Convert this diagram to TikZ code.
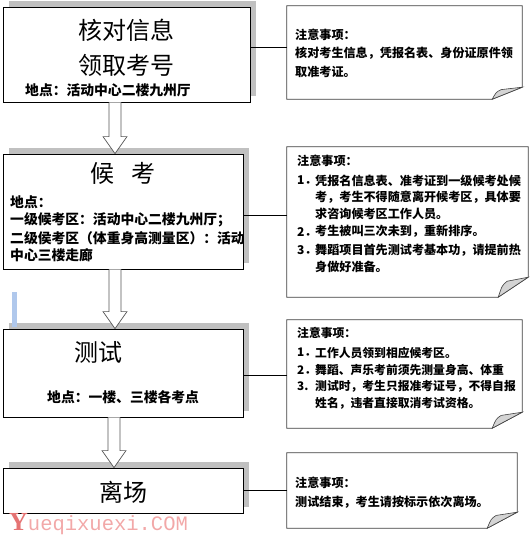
\documentclass[tikz,border=0pt]{standalone}
\usepackage{fontspec}
\newfontfamily\cjk{Noto Sans CJK SC}
\newfontfamily\wmfont{Liberation Mono}
\newfontfamily\wmserif{Liberation Serif}
\usetikzlibrary{calc,shadows}
\definecolor{shadowgray}{HTML}{C0C0C0}
\definecolor{notegray}{HTML}{404040}
\definecolor{foldgray}{HTML}{D4D4D4}
\definecolor{barblue}{HTML}{B0C8EC}
\definecolor{wmpink}{HTML}{F2A8A8}
\definecolor{wmred}{HTML}{E57373}
\definecolor{arrowgray}{HTML}{555555}
\tikzset{
  stepbox/.style={draw=black, line width=0.8pt, fill=white, inner sep=0pt,
    drop shadow={shadow xshift=6pt, shadow yshift=6pt, fill=shadowgray, opacity=1}},
  notebox/.style={draw=none, inner sep=0pt},
  notepath/.style={draw=notegray, line width=0.8pt, fill=white},
  foldpath/.style={draw=notegray, line width=0.6pt, fill=foldgray},
  steptitle/.style={font=\cjk\fontsize{24}{28}\selectfont, inner sep=0pt},
  place/.style={font=\cjk\bfseries\fontsize{13.8}{17}\selectfont, inner sep=0pt, anchor=west},
  note/.style={font=\cjk\bfseries\fontsize{12.1}{15}\selectfont, inner sep=0pt, anchor=west},
  notesmall/.style={font=\cjk\bfseries\fontsize{11.8}{15}\selectfont, inner sep=0pt, anchor=west},
  link/.style={draw=black, line width=0.6pt},
  blockarrow/.style={draw=arrowgray, line width=0.7pt, fill=white},
}
\newcommand\blockarr[2]{%
  \draw[blockarrow] ($(#1)+(-6,0)$) -- ($(#2)+(-6,-17)$) -- ($(#2)+(-12,-17)$) -- (#2)
    -- ($(#2)+(12,-17)$) -- ($(#2)+(6,-17)$) -- ($(#1)+(6,0)$);}
\newcommand\notedraw[2]{%
  \draw[notepath] (#1.north west) -- (#1.north east) -- ($(#1.south east)+(0,-#2)$)
    -- ($(#1.south east)+(-30,0)$) -- (#1.south west) -- cycle;
  \filldraw[foldpath] ($(#1.south east)+(-30,0)$) .. controls ($(#1.south east)+(-26,-0.6*#2)$) .. ($(#1.south east)+(-21,-0.8*#2)$)
    -- ($(#1.south east)+(0,-#2)$) -- cycle;}
\begin{document}
\begin{tikzpicture}[x=1pt,y=-1pt]
\useasboundingbox (0,0) rectangle (530,538);

% left step boxes
\node[stepbox, minimum width=247pt, minimum height=95pt] (b1) at (126.5,54.5) {};
\node[stepbox, minimum width=240pt, minimum height=115pt] (b2) at (123,211.5) {};
\node[stepbox, minimum width=240pt, minimum height=88pt] (b3) at (123,373) {};
\node[stepbox, minimum width=240pt, minimum height=45pt] (b4) at (123,490.5) {};

% light blue bar
\fill[barblue] (12,292) rectangle (17,327);

% note boxes
\node[notebox, minimum width=235pt, minimum height=93pt] (n1) at (404.5,52.5) {};
\node[notebox, minimum width=241pt, minimum height=150pt] (n2) at (407.5,222) {};
\node[notebox, minimum width=235pt, minimum height=108pt] (n3) at (404.5,374) {};
\node[notebox, minimum width=230pt, minimum height=75pt] (n4) at (402,490.5) {};
\notedraw{n1}{12}
\notedraw{n2}{20}
\notedraw{n3}{16}
\notedraw{n4}{16}

% connectors
\draw[link] (b1.east |- 0,47) -- (n1.west |- 0,47);
\draw[link] (b2.east |- 0,215) -- (n2.west |- 0,215);
\draw[link] (b3.east |- 0,375) -- (n3.west |- 0,375);
\draw[link] (b4.east |- 0,490) -- (n4.west |- 0,490);

% block arrows
\coordinate (a1s) at (b1.south -| 115,0);
\coordinate (a1e) at (b2.north -| 115,0);
\coordinate (a2s) at (b2.south -| 115,0);
\coordinate (a2e) at (b3.north -| 115,0);
\coordinate (a3s) at (b3.south -| 114,0);
\coordinate (a3e) at (b4.north -| 114,0);
\blockarr{a1s}{a1e}
\blockarr{a2s}{a2e}
\blockarr{a3s}{a3e}

% box 1 text
\node[steptitle] (t1a) at (126,30) {核对信息};
\node[steptitle] (t1b) at (126,65) {领取考号};
\node[place] (p1) at (25,90) {地点：活动中心二楼九州厅};

% box 2 text
\node[steptitle] (t2) at (123,173) {候\hspace{0.7em}考};
\node[place] (p2a) at (10,202) {地点：};
\node[place] (p2b) at (10,220) {一级候考区：活动中心二楼九州厅；};
\node[place] (p2c) at (10,238) {二级侯考区（体重身高测量区）：活动};
\node[place] (p2d) at (10,255) {中心三楼走廊};

% box 3 text
\node[steptitle] (t3) at (98,352) {测试};
\node[place] (p3) at (47,397) {地点：一楼、三楼各考点};

% box 4 text
\node[steptitle] (t4) at (123,492) {离场};

% note 1
\node[note] (r1a) at (295,35) {注意事项：};
\node[note] (r1b) at (295,53) {核对考生信息，凭报名表、身份证原件领};
\node[note] (r1c) at (295,72) {取准考证。};

% note 2
\node[note] (r2a) at (297,160.5) {注意事项：};
\node[note] (r2n1) at (297,180.5) {1．};
\node[note] (r2b) at (315,180.5) {凭报名信息表、准考证到一级候考处候};
\node[note] (r2c) at (315,197.3) {考，考生不得随意离开候考区，具体要};
\node[note] (r2d) at (315,214) {求咨询候考区工作人员。};
\node[note] (r2n2) at (297,231.7) {2．};
\node[note] (r2e) at (315,231.7) {考生被叫三次未到，重新排序。};
\node[note] (r2n3) at (297,250) {3．};
\node[note] (r2f) at (315,250) {舞蹈项目首先测试考基本功，请提前热};
\node[note] (r2g) at (315,266.7) {身做好准备。};

% note 3
\node[notesmall] (r3a) at (297,333.3) {注意事项：};
\node[notesmall] (r3n1) at (297,352.7) {1．};
\node[notesmall] (r3b) at (315,352.7) {工作人员领到相应候考区。};
\node[notesmall] (r3n2) at (297,370) {2．};
\node[notesmall] (r3c) at (315,370) {舞蹈、声乐考前须先测量身高、体重};
\node[notesmall] (r3n3) at (297,386.7) {3.};
\node[notesmall] (r3d) at (315,386.7) {测试时，考生只报准考证号，不得自报};
\node[notesmall] (r3e) at (315,403.3) {姓名，违者直接取消考试资格。};

% note 4
\node[note] (r4a) at (295,483) {注意事项：};
\node[note] (r4b) at (295,502) {测试结束，考生请按标示依次离场。};

% watermark
\node[anchor=base west, inner sep=0pt] (wm) at (9,530)
  {\textcolor{wmred}{\wmserif\bfseries\fontsize{26}{26}\selectfont Y}\textcolor{wmpink}{\wmfont\fontsize{20.5}{20.5}\selectfont ueqixuexi.COM}};
\end{tikzpicture}
\end{document}
